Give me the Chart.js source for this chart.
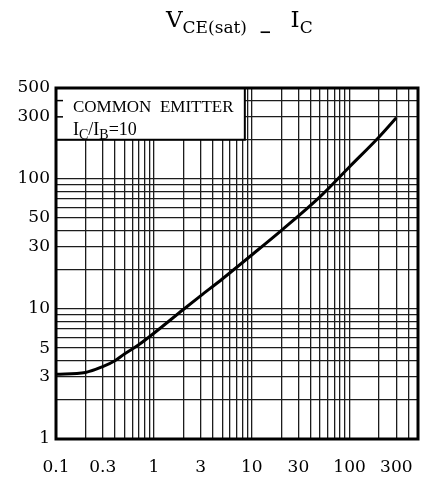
<!DOCTYPE html>
<html>
<head>
<meta charset="utf-8">
<script src="https://cdn.jsdelivr.net/npm/chart.js@4.4.1/dist/chart.umd.min.js"></script>
<style>
  html, body { margin: 0; padding: 0; background: #fff; overflow: hidden; }
  canvas { display: block; }
</style>
</head>
<body>
<canvas id="chartVce" width="424" height="483"></canvas>
<script>
// valeurs (IC en mA, VCE(sat) en mV)
var icValues  = [0.1, 0.2, 0.3, 0.4, 0.5, 0.7, 1, 2, 3, 5, 10, 20, 50, 100, 200, 300];
var vceValues = [3.15, 3.25, 3.6, 4.0, 4.5, 5.3, 6.5, 9.9, 12.6, 17.0, 26, 40, 73, 124, 210, 295];

var xTickLabels = [0.1, 0.3, 1, 3, 10, 30, 100, 300];
var yTickLabels = [1, 3, 5, 10, 30, 50, 100, 300, 500];
var xRange = [0.1, 500];
var yRange = [1, 500];

var gridColor = '#1c1c1c';
var tickFont = { family: '"DejaVu Serif"', size: 17 };

// lignes de grille 1..9 x 10^n
function logGrid(min, max) {
    var out = [];
    for (var e = -2; e < 4; e++) {
        for (var k = 1; k < 10; k++) {
            var v = Number((k * Math.pow(10, e)).toPrecision(2));
            if (v >= min - 1e-9 && v <= max + 1e-9) out.push(v);
        }
    }
    return out;
}

function drawRuns(ctx, x, y, runs) {
    runs.forEach(function(r) {
        if (r.gap) { x += r.gap; return; }
        ctx.font = r.font;
        ctx.fillText(r.text, x, y + (r.dy || 0));
        x += ctx.measureText(r.text).width;
    });
}

var decor = {
    id: 'decor',
    beforeDatasetsDraw: function(chart) { // cadre "COMMON EMITTER" par dessus la grille
        var ctx = chart.ctx, a = chart.chartArea;
        var sx = chart.scales.x, sy = chart.scales.y;
        var right = sx.getPixelForValue(8.5);
        var bottom = sy.getPixelForValue(200);
        ctx.save();
        ctx.fillStyle = '#fff';
        ctx.fillRect(a.left, a.top, right - a.left, bottom - a.top);
        ctx.strokeStyle = '#000';
        ctx.lineWidth = 2;
        ctx.strokeRect(a.left, a.top, right - a.left, bottom - a.top);
        ctx.lineWidth = 1.5;
        [300, 400].forEach(function(v) {
            var py = sy.getPixelForValue(v);
            ctx.beginPath();
            ctx.moveTo(a.left, py);
            ctx.lineTo(a.left + 7, py);
            ctx.stroke();
        });
        ctx.fillStyle = '#000';
        ctx.textBaseline = 'alphabetic';
        ctx.font = '17px "Liberation Serif"';
        ctx.fillText('COMMON  EMITTER', a.left + 17, a.top + 24);
        var big = '18px "Liberation Serif"', small = '14px "Liberation Serif"';
        drawRuns(ctx, a.left + 17, a.top + 47, [
            { text: 'I', font: big },
            { text: 'C', font: small, dy: 4 },
            { text: '/I', font: big },
            { text: 'B', font: small, dy: 4 },
            { text: '=10', font: big }
        ]);
        ctx.restore();
    },
    afterDraw: function(chart) {
        var ctx = chart.ctx, a = chart.chartArea;
        ctx.save();
        ctx.strokeStyle = '#000';
        ctx.lineWidth = 3;
        ctx.strokeRect(a.left, a.top, a.right - a.left, a.bottom - a.top);
        // titre VCE(sat) - IC
        ctx.fillStyle = '#000';
        ctx.textBaseline = 'alphabetic';
        var tBig = '23px "DejaVu Serif"', tSmall = '17px "DejaVu Serif"';
        drawRuns(ctx, 166, 27, [
            { text: 'V', font: tBig },
            { text: 'CE(sat)', font: tSmall, dy: 6 },
            { gap: 12 },
            { text: '\u2212', font: 'bold 15px "DejaVu Serif"', dy: 10 },
            { gap: 19 },
            { text: 'I', font: tBig },
            { text: 'C', font: tSmall, dy: 6 }
        ]);
        ctx.restore();
    }
};

var points = icValues.map(function(ic, i) { return { x: ic, y: vceValues[i] }; });

var chart = new Chart(document.getElementById('chartVce').getContext('2d'), {
    type: 'line',
    data: {
        datasets: [{
            data: points,
            borderColor: '#000',
            borderWidth: 3,
            pointRadius: 0,
            fill: false,
            cubicInterpolationMode: 'monotone'
        }]
    },
    options: {
        responsive: false,
        animation: false,
        layout: { padding: { top: 88, right: 6, left: 0, bottom: 0 } },
        plugins: {
            legend: { display: false },
            tooltip: { enabled: false }
        },
        scales: {
            x: {
                type: 'logarithmic',
                min: xRange[0],
                max: xRange[1],
                afterBuildTicks: function(s) {
                    s.ticks = logGrid(xRange[0], xRange[1]).map(function(v) { return { value: v }; });
                },
                afterFit: function(s) {
                    s.height = 44;
                    s.paddingLeft = 0;  // sinon le padding des ticks rétrécit la zone
                    s.paddingRight = 0;
                },
                grid: { color: gridColor, lineWidth: 1.3, drawTicks: false },
                border: { display: false },
                ticks: {
                    autoSkip: false,
                    maxRotation: 0,
                    padding: 18,
                    color: '#000',
                    font: tickFont,
                    callback: function(v) { return xTickLabels.indexOf(v) >= 0 ? String(v) : ''; }
                }
            },
            y: {
                type: 'logarithmic',
                min: yRange[0],
                max: yRange[1],
                afterBuildTicks: function(s) {
                    s.ticks = logGrid(yRange[0], yRange[1]).map(function(v) { return { value: v }; });
                },
                afterFit: function(s) { s.width = 56; },
                grid: { color: gridColor, lineWidth: 1.3, drawTicks: false },
                border: { display: false },
                ticks: {
                    autoSkip: false,
                    padding: 6,
                    color: '#000',
                    font: tickFont,
                    callback: function(v) { return yTickLabels.indexOf(v) >= 0 ? String(v) : ''; }
                }
            }
        }
    },
    plugins: [decor]
});
</script>
</body>
</html>
